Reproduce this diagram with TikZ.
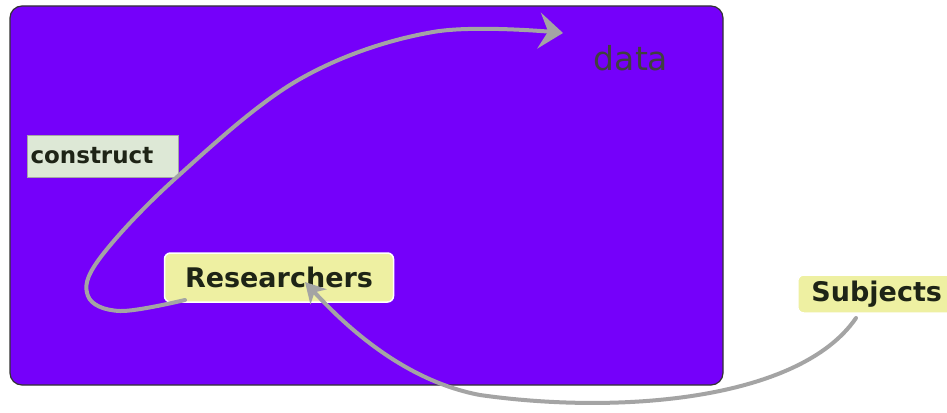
\documentclass[tikz,border=0pt]{standalone}
\usepackage{fontspec}
\setmainfont{DejaVu Sans}
\usetikzlibrary{arrows.meta}
\definecolor{bgpurple}{HTML}{7500FA}
\definecolor{arrowgray}{HTML}{A4A4A4}
\definecolor{yellowfill}{HTML}{EEF0A2}
\definecolor{greenfill}{HTML}{DDE8D6}
\definecolor{txtdark}{HTML}{1E2416}
\tikzset{
  topicbox/.style={fill=yellowfill, draw=white, line width=1.5pt, rounded corners=6pt, inner sep=0pt, font=\fontsize{27}{30}\selectfont\bfseries, text=txtdark},
  conbox/.style={fill=greenfill, draw=gray!70, line width=1pt, inner sep=0pt, font=\fontsize{23}{26}\selectfont\bfseries, text=txtdark},
  flow/.style={draw=arrowgray, line width=4pt, line cap=round, line join=round},
}
\begin{document}
\begin{tikzpicture}[x=1pt,y=-1pt]
\useasboundingbox (0,0) rectangle (947,412);
\fill[white] (0,0) rectangle (947,412);
\draw[fill=bgpurple, draw=black!80, line width=1.2pt, rounded corners=12pt] (10,6) rectangle (723,385);
\node[conbox, minimum width=151pt, minimum height=42pt, text width=144pt, align=left] (construct) at (102.5,156) {construct};
\node[topicbox, minimum width=229pt, minimum height=49pt] (res) at (279,277.5) {Researchers};
\node[topicbox, minimum width=160pt, minimum height=38pt, anchor=west] (subj) at (797,294) {\hspace*{-2pt}Subjects};
\node[font=\fontsize{33}{36}\selectfont, text=black!75] (data) at (631,58) {data};
\coordinate (tipdata) at (563,33);
\coordinate (resbl) at (185,300);
\coordinate (resb) at (305,282);
\coordinate (subjb) at (856,318);
\draw[flow, -{Stealth[length=24pt,width=36pt,inset=9pt]}] plot[smooth, tension=0.6] coordinates {(resbl) (120,311) (88,296) (100,258) (177,177) (300,79) (433,32) (tipdata)};
\draw[flow, -{Stealth[length=20pt,width=22pt,inset=6pt]}] (subjb) .. controls (800,400) and (620,415) .. (480,395)
  .. controls (400,380) and (340,320) .. (resb);
\end{tikzpicture}
\end{document}
